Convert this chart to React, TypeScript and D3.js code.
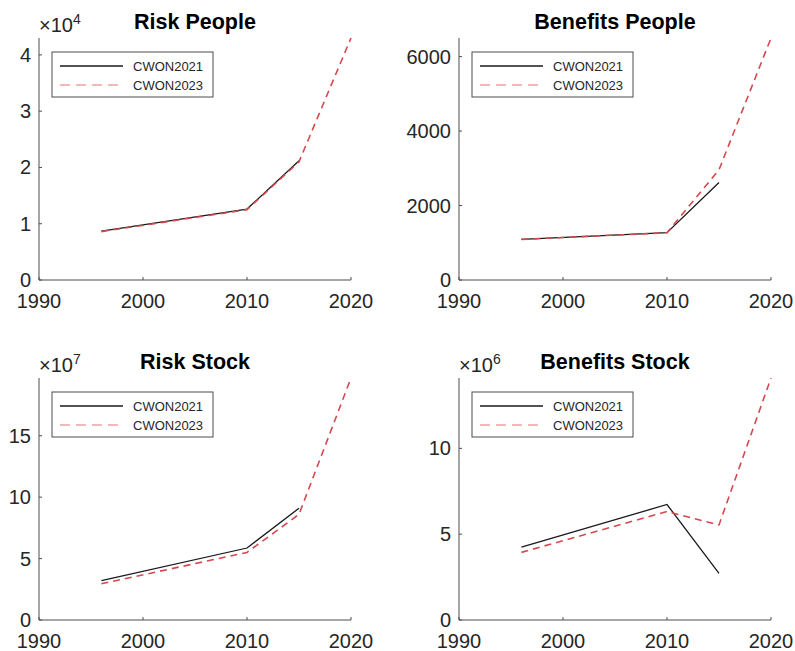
import React from 'react';
import * as d3 from 'd3';

// values
const years2021 = [1996, 2010, 2015];
const years2023 = [1996, 2010, 2015, 2020];

const riskPeople2021 = [8700, 12600, 21200];
const riskPeople2023 = [8600, 12500, 21000, 43000];

const benefitsPeople2021 = [1090, 1270, 2620];
const benefitsPeople2023 = [1090, 1270, 2960, 6500];

const riskStock2021 = [3.2e7, 5.86e7, 9.1e7];
const riskStock2023 = [2.95e7, 5.5e7, 8.6e7, 19.7e7];

const benefitsStock2021 = [4.24e6, 6.73e6, 2.72e6];
const benefitsStock2023 = [3.94e6, 6.32e6, 5.54e6, 14.1e6];

const xTicks = [1990, 2000, 2010, 2020];
const seriesNames = ['CWON2021', 'CWON2023'];

const panels = [
  { title: 'Risk People', a: riskPeople2021, b: riskPeople2023, exp: 4, yTicks: [0, 1, 2, 3, 4], left: 39, top: 38 },
  { title: 'Benefits People', a: benefitsPeople2021, b: benefitsPeople2023, exp: 0, yTicks: [0, 2000, 4000, 6000], left: 459, top: 38 },
  { title: 'Risk Stock', a: riskStock2021, b: riskStock2023, exp: 7, yTicks: [0, 5, 10, 15], left: 39, top: 378 },
  { title: 'Benefits Stock', a: benefitsStock2021, b: benefitsStock2023, exp: 6, yTicks: [0, 5, 10], left: 459, top: 378 },
];

const W = 312;
const H = 242;
const font = 'Liberation Sans, Arial, Helvetica, sans-serif';
const axisColor = '#4d4d4d';
const textColor = '#262626';
const red = '#d64850';

function Panel({ p }: { p: typeof panels[number] }) {
  const scale = Math.pow(10, p.exp);
  const x = d3.scaleLinear().domain([1990, 2020]).range([0, W]);
  const yMax = (d3.max(p.b.concat(p.a)) as number) / scale;
  const y = d3.scaleLinear().domain([0, yMax]).range([H, 0]);
  const line = d3.line<[number, number]>()
    .x(d => x(d[0]))
    .y(d => y(d[1] / scale));
  const ptsA = years2021.map((yr, i) => [yr, p.a[i]] as [number, number]);
  const ptsB = years2023.map((yr, i) => [yr, p.b[i]] as [number, number]);

  return (
    <g transform={`translate(${p.left},${p.top})`}>
      <text x={W / 2} y={-9} textAnchor="middle" fontSize={21.5} fontWeight="bold" fill="#000">{p.title}</text>
      {p.exp > 0 && (
        <text x={0} y={-6} fontSize={20} fill={textColor}>
          ×10<tspan dy={-8} fontSize={14}>{p.exp}</tspan>
        </text>
      )}
      <path d={line(ptsA) || ''} fill="none" stroke="#1a1a1a" strokeWidth={1.3} />
      <path d={line(ptsB) || ''} fill="none" stroke={red} strokeWidth={1.6} strokeDasharray="7,5" />
      <line x1={0} x2={0} y1={0} y2={H} stroke={axisColor} />
      <line x1={0} x2={W} y1={H} y2={H} stroke={axisColor} />
      {xTicks.map(t => (
        <g key={t}>
          <line x1={x(t)} x2={x(t)} y1={H} y2={H - 3} stroke={axisColor} />
          <text x={x(t)} y={H + 28} textAnchor="middle" fontSize={20} fill={textColor}>{t}</text>
        </g>
      ))}
      {p.yTicks.map(t => (
        <g key={t}>
          <line x1={0} x2={3} y1={y(t)} y2={y(t)} stroke={axisColor} />
          <text x={-8} y={y(t)} dy="0.35em" textAnchor="end" fontSize={20} fill={textColor}>{t}</text>
        </g>
      ))}
      <g transform="translate(13,14)">
        <rect x={0} y={0} width={161} height={45} fill="#fff" stroke={axisColor} strokeWidth={1} />
        <line x1={8} x2={71} y1={14} y2={14} stroke="#1a1a1a" strokeWidth={1.3} />
        <line x1={8} x2={71} y1={33} y2={33} stroke="#f0a0a0" strokeWidth={1.3} strokeDasharray="10,6" />
        {seriesNames.map((s, i) => (
          <text key={s} x={81} y={14 + i * 19} dy="0.35em" fontSize={13} fill={textColor}>{s}</text>
        ))}
      </g>
    </g>
  );
}

export default function App() {
  return (
    <svg width={795} height={651} style={{ display: 'block', position: 'absolute', left: 0, top: 0, fontFamily: font, background: '#fff' }}>
      <rect width={795} height={651} fill="#fff" />
      {panels.map(p => <Panel key={p.title} p={p} />)}
    </svg>
  );
}
